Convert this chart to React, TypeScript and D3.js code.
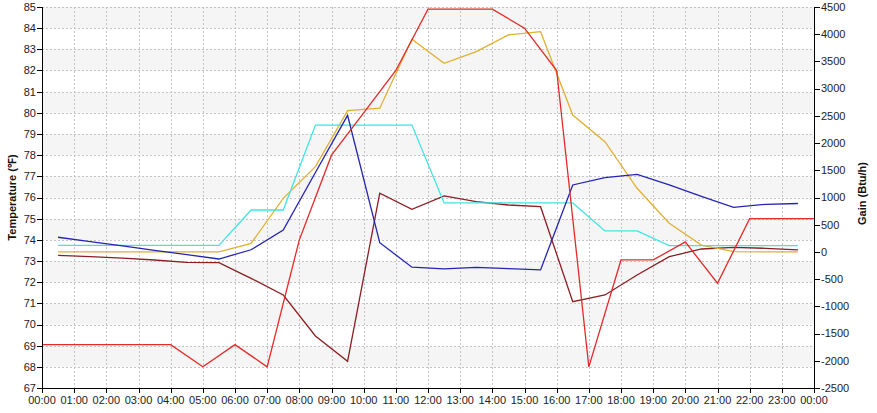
import React from "react";
import * as d3 from "d3";

const W = 877;
const H = 413;
const M = { left: 42, right: 63, top: 7, bottom: 25 };

// Outside temperature (°F), hourly at 00:00 .. 24:00
const outsideHours = [0,1,2,3,4,5,6,7,8,9,10,11,12,13,14,15,16,17,18,19,20,21,22,23,24];
const outsideTemp = [69.05,69.05,69.05,69.05,69.05,68,69.05,68,74,78,80,82,84.9,84.9,84.9,84,82,68,73.05,73.05,73.9,71.95,75,75,75];

// Gains (Btu/h) at half hours 00:30 .. 23:30
const halfHours = d3.range(24).map((h) => h + 0.5);
const blueGain = [270,190,110,30,-50,-130,40,400,1460,2510,170,-280,-310,-285,-305,-330,1230,1365,1425,1230,1020,820,875,890];
const cyanGain = [120,120,120,120,120,120,770,770,2330,2330,2330,2330,900,900,900,900,900,385,385,115,115,115,115,115];
const goldGain = [0,0,0,0,0,0,158,985,1566,2595,2640,3906,3466,3679,3986,4046,2516,2025,1169,526,127,5,0,0];
const brownGain = [-62,-88,-112,-148,-191,-198,-485,-791,-1545,-2010,1080,783,1028,923,862,831,-914,-791,-424,-88,54,85,67,36];

const tempTicks = d3.range(67, 86, 1);
const gainTicks = d3.range(-2500, 4501, 500);
const hourTicks = d3.range(0, 25, 1);
const hourLabel = (h: number) => `${String(h % 24).padStart(2, "0")}:00`;

export default function App() {
  const x = d3.scaleLinear().domain([0, 24]).range([M.left, W - M.right]);
  const yT = d3.scaleLinear().domain([67, 85]).range([H - M.bottom, M.top]);
  const yG = d3.scaleLinear().domain([-2500, 4500]).range([H - M.bottom, M.top]);

  const lineT = d3.line<[number, number]>().x((d) => x(d[0])).y((d) => yT(d[1]));
  const lineG = d3.line<[number, number]>().x((d) => x(d[0])).y((d) => yG(d[1]));
  const zipG = (vals: number[]) => halfHours.map((h, i) => [h, vals[i]] as [number, number]);

  const x0 = x(0), x1 = x(24), yb = yT(67), yt = yT(85);
  const font = "'Liberation Sans', Arial, sans-serif";

  const bands = tempTicks.filter((t) => t < 85 && (85 - t) % 2 === 1);

  const series = [
    { vals: brownGain, color: "#8b1e22" },
    { vals: goldGain, color: "#e0b030" },
    { vals: cyanGain, color: "#40e4e4" },
    { vals: blueGain, color: "#2424b4" },
  ];

  return (
    <svg width={W} height={H} style={{ position: "absolute", left: 0, top: 0, background: "#fff" }} fontFamily={font}>
      {bands.map((t) => (
        <rect key={"b" + t} x={x0} y={yT(t + 1)} width={x1 - x0} height={yT(t) - yT(t + 1)} fill="#f5f5f5" />
      ))}
      {tempTicks.map((t) => (
        <line key={"gh" + t} x1={x0} x2={x1} y1={Math.round(yT(t)) + 0.5} y2={Math.round(yT(t)) + 0.5} stroke="#c4c4c4" strokeDasharray="2,2" />
      ))}
      {hourTicks.slice(1, 24).map((h) => (
        <line key={"gv" + h} x1={Math.round(x(h)) + 0.5} x2={Math.round(x(h)) + 0.5} y1={yt} y2={yb} stroke="#c4c4c4" strokeDasharray="2,2" />
      ))}

      {series.map((s, i) => (
        <path key={"s" + i} d={lineG(zipG(s.vals)) || ""} fill="none" stroke={s.color} strokeWidth={1.3} />
      ))}
      <path d={lineT(outsideHours.map((h, i) => [h, outsideTemp[i]] as [number, number])) || ""} fill="none" stroke="#e42a2a" strokeWidth={1.3} />

      {/* axes */}
      <line x1={x0 + 0.5} x2={x0 + 0.5} y1={yt} y2={yb} stroke="#000" />
      <line x1={x1 + 0.5} x2={x1 + 0.5} y1={yt} y2={yb} stroke="#000" />
      <line x1={x0} x2={x1 + 1} y1={yb + 0.5} y2={yb + 0.5} stroke="#000" />

      {tempTicks.map((t) => (
        <g key={"lt" + t}>
          <line x1={x0 - 5} x2={x0} y1={Math.round(yT(t)) + 0.5} y2={Math.round(yT(t)) + 0.5} stroke="#000" />
          <text x={x0 - 6} y={yT(t)} dy="0.35em" textAnchor="end" fontSize={11} fill="#222">{t}</text>
        </g>
      ))}
      {gainTicks.map((g) => (
        <g key={"rt" + g}>
          <line x1={x1} x2={x1 + 6} y1={Math.round(yG(g)) + 0.5} y2={Math.round(yG(g)) + 0.5} stroke="#000" />
          <text x={x1 + 7} y={yG(g)} dy="0.35em" textAnchor="start" fontSize={11} fill="#222">{g}</text>
        </g>
      ))}
      {hourTicks.map((h) => (
        <g key={"bt" + h}>
          <line x1={Math.round(x(h)) + 0.5} x2={Math.round(x(h)) + 0.5} y1={yb} y2={yb + 5} stroke="#000" />
          <text x={x(h)} y={yb + 16} textAnchor="middle" fontSize={11} fill="#222">{hourLabel(h)}</text>
        </g>
      ))}

      <text transform={`translate(16,${(yt + yb) / 2}) rotate(-90)`} textAnchor="middle" fontSize={11} fontWeight="bold" fill="#111">Temperature (℉)</text>
      <text transform={`translate(866,${(yt + yb) / 2 - 4}) rotate(-90)`} textAnchor="middle" fontSize={11} fontWeight="bold" fill="#111">Gain (Btu/h)</text>
    </svg>
  );
}
